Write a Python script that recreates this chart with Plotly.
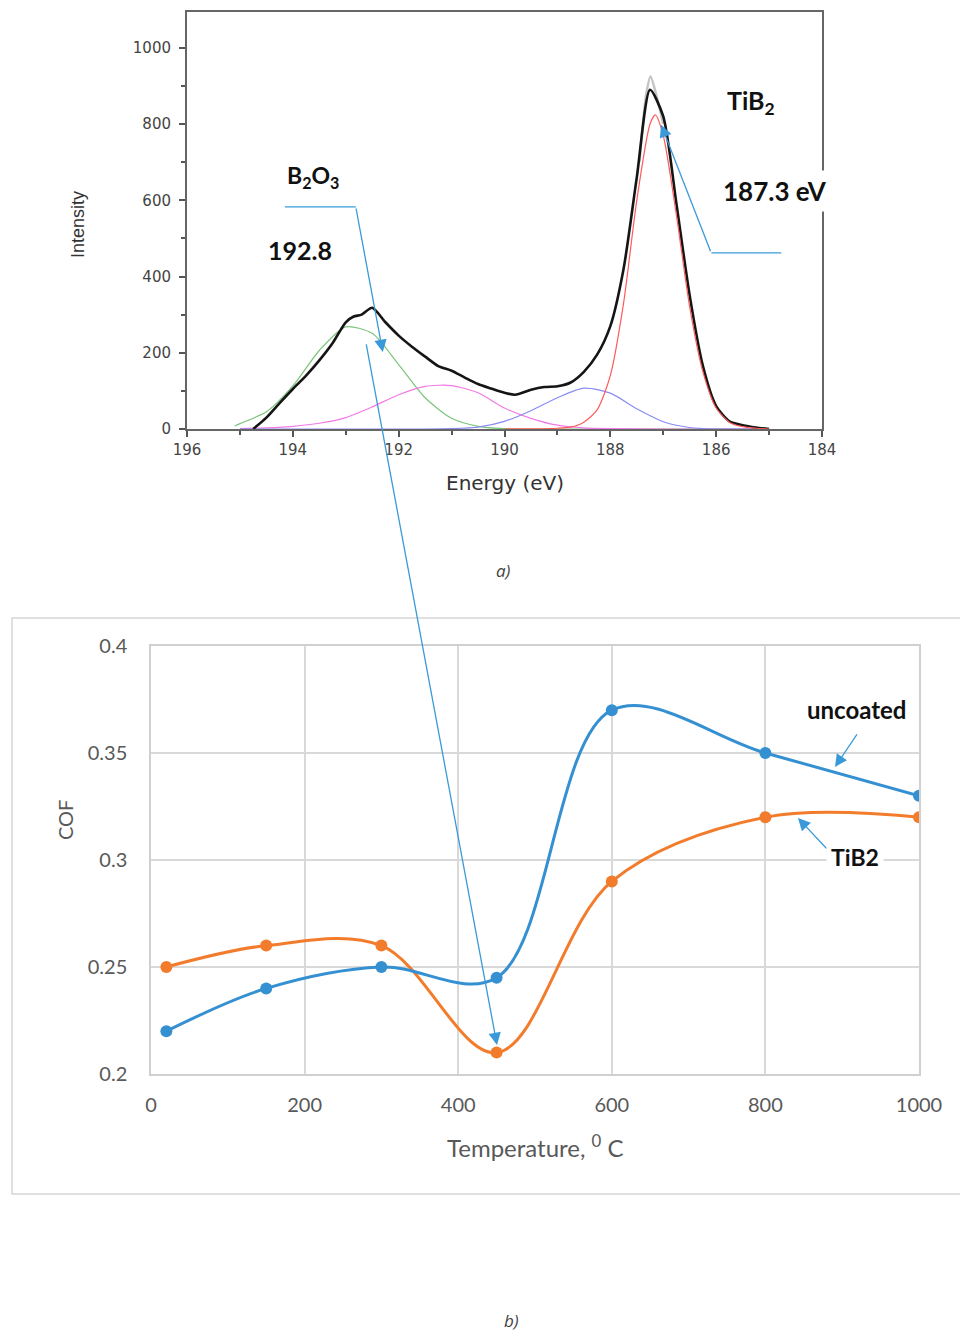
import plotly.graph_objects as go

# ---------------- (a) XPS B1s spectrum ----------------
energy_total = [194.75, 194.5, 194.25, 194.0, 193.75, 193.5, 193.25, 193.0, 192.85, 192.7, 192.5,
                192.25, 192.0, 191.75, 191.5, 191.25, 191.0, 190.75, 190.5, 190.25, 190.0, 189.8,
                189.5, 189.25, 189.0, 188.75, 188.5, 188.25, 188.0, 187.75, 187.5, 187.25, 187.0,
                186.75, 186.5, 186.25, 186.0, 185.75, 185.5, 185.25, 185.0]
intensity_total = [0, 30, 68, 105, 140, 180, 225, 280, 295, 300, 318,
                   280, 245, 216, 190, 165, 153, 135, 118, 106, 95, 90,
                   103, 110, 112, 122, 150, 195, 270, 420, 660, 890, 820,
                   590, 350, 165, 60, 20, 10, 4, 0]

energy_raw = [187.45, 187.32, 187.24, 187.12, 187.0]
intensity_raw = [700, 880, 925, 870, 800]

energy_b2o3 = [195.1, 195.0, 194.5, 194.0, 193.5, 193.0, 192.5, 192.0, 191.5, 191.0, 190.5,
               190.0, 189.0, 187.0, 185.0]
intensity_b2o3 = [8, 14, 45, 113, 206, 268, 251, 169, 82, 28, 7, 1, 0, 0, 0]

energy_mid = [195.0, 194.5, 194.0, 193.5, 193.0, 192.5, 192.0, 191.5, 191.0, 190.5, 190.0,
              189.5, 189.0, 188.5, 188.0, 187.0, 185.0]
intensity_mid = [1, 3, 7, 15, 30, 58, 90, 112, 114, 95, 55, 28, 10, 3, 1, 0, 0]

energy_low = [195.0, 193.0, 191.5, 191.0, 190.5, 190.0, 189.5, 189.0, 188.5, 188.0, 187.5,
              187.0, 186.5, 186.0, 185.0]
intensity_low = [0, 0, 0, 1, 5, 20, 48, 82, 107, 94, 53, 19, 4, 0, 0]

energy_tib2 = [190.0, 189.0, 188.75, 188.5, 188.25, 188.0, 187.75, 187.5, 187.25, 187.15,
               187.0, 186.75, 186.5, 186.25, 186.0, 185.75, 185.5, 185.25, 185.0]
intensity_tib2 = [0, 2, 5, 18, 50, 140, 330, 600, 800, 824,
                  770, 560, 320, 150, 55, 18, 6, 2, 0]

energy_ticks = [196, 194, 192, 190, 188, 186, 184]
intensity_ticks = [0, 200, 400, 600, 800, 1000]

# ---------------- (b) COF vs temperature ----------------
temperature = [20, 150, 300, 450, 600, 800, 1000]
cof_uncoated = [0.22, 0.24, 0.25, 0.245, 0.37, 0.35, 0.33]
cof_tib2 = [0.25, 0.26, 0.26, 0.21, 0.29, 0.32, 0.32]
temp_ticks = [0, 200, 400, 600, 800, 1000]
cof_ticks = [0.2, 0.25, 0.3, 0.35, 0.4]

BLUE = "#3590d2"
ORANGE = "#f27c2c"
ARROW = "#3a9ad9"

fig = go.Figure()

def spec(x, y, color, width, smooth=0.7):
    fig.add_trace(go.Scatter(x=x, y=y, mode="lines", xaxis="x", yaxis="y",
                             line=dict(color=color, width=width, shape="spline", smoothing=smooth),
                             hoverinfo="skip"))

spec(energy_raw, intensity_raw, "#c4c4c4", 2.5)
spec(energy_b2o3, intensity_b2o3, "#7cc47c", 1.2)
spec(energy_mid, intensity_mid, "#f27ae6", 1.2)
spec(energy_low, intensity_low, "#8a8af5", 1.2)
spec(energy_total, intensity_total, "#151515", 2.6)
spec(energy_tib2, intensity_tib2, "#ff5a5a", 1.2)

for yv, col in ((cof_tib2, ORANGE), (cof_uncoated, BLUE)):
    fig.add_trace(go.Scatter(x=temperature, y=yv, mode="lines+markers", xaxis="x2", yaxis="y2",
                             line=dict(color=col, width=3, shape="spline", smoothing=1.0),
                             marker=dict(color=col, size=12), hoverinfo="skip"))

top_font = dict(family="DejaVu Sans", size=15, color="#444444")
bot_font = dict(family="Lato, Open Sans", size=20, color="#595959")

fig.update_layout(
    width=960, height=1332, margin=dict(l=0, r=0, t=0, b=0, pad=0, autoexpand=False),
    paper_bgcolor="white", plot_bgcolor="white", showlegend=False,
    xaxis=dict(domain=[187/960, 822/960], anchor="y", range=[196, 184], automargin=False,
               tickvals=energy_ticks, ticks="outside", ticklen=6, tickwidth=1.5, tickcolor="#555",
               minor=dict(ticks="outside", ticklen=4, dtick=1, tick0=184, tickcolor="#555"),
               showline=True, mirror=True, linecolor="#666", linewidth=2,
               showgrid=False, zeroline=False, tickfont=top_font),
    yaxis=dict(domain=[1 - 429/1332, 1 - 12/1332], anchor="x", range=[0, 1094], automargin=False,
               tickvals=intensity_ticks, ticks="outside", ticklen=6, tickwidth=1.5, tickcolor="#555",
               minor=dict(ticks="outside", ticklen=4, dtick=100, tickcolor="#555"),
               showline=True, mirror=True, linecolor="#666", linewidth=2,
               showgrid=False, zeroline=False, tickfont=top_font, ticklabelstandoff=5),
    xaxis2=dict(domain=[151/960, 919/960], anchor="y2", range=[0, 1000], automargin=False,
                tickvals=temp_ticks, showgrid=True, gridcolor="#d9d9d9", gridwidth=1.5,
                showline=True, mirror=True, linecolor="#d0d0d0", linewidth=1.5,
                ticks="", zeroline=False, tickfont=bot_font, ticklabelstandoff=12),
    yaxis2=dict(domain=[1 - 1074/1332, 1 - 646/1332], anchor="x2", range=[0.2, 0.4], automargin=False,
                tickvals=cof_ticks, ticktext=["0.2", "0.25", "0.3", "0.35", "0.4"],
                showgrid=True, gridcolor="#d9d9d9", gridwidth=1.5,
                showline=True, mirror=True, linecolor="#d0d0d0", linewidth=1.5,
                ticks="", zeroline=False, tickfont=bot_font, ticklabelstandoff=18),
)

# outer frame of panel (b)
fig.add_shape(type="rect", xref="paper", yref="paper", x0=12/960, x1=1.02,
              y0=1 - 1194/1332, y1=1 - 618/1332, line=dict(color="#d6d6d6", width=1.5),
              fillcolor="rgba(0,0,0,0)", layer="below")

# leader lines (horizontal parts) in panel (a)
fig.add_shape(type="line", xref="x", yref="y", x0=194.15, x1=192.81, y0=583, y1=583,
              line=dict(color=ARROW, width=1.3))
fig.add_shape(type="line", xref="x", yref="y", x0=186.09, x1=184.77, y0=462, y1=462,
              line=dict(color=ARROW, width=1.3))

def arrow(x, y, ax, ay, xref, yref):
    fig.add_annotation(x=x, y=y, xref=xref, yref=yref, ax=ax, ay=ay, axref="pixel", ayref="pixel",
                       showarrow=True, arrowhead=2, arrowsize=1.9, arrowwidth=1.3,
                       arrowcolor=ARROW, text="")

arrow(192.30, 202, -27, -145, "x", "y")
arrow(187.04, 798, 50, 128, "x", "y")
arrow(450.5, 0.2136, -131, -702, "x2", "y2")
arrow(890.6, 0.3435, 23, -34, "x2", "y2")
arrow(842.4, 0.3196, 30, 32, "x2", "y2")

def label(text, px, py, size, bold=True, color="#111", bg=None, italic=False, angle=0, family="Lato"):
    t = f"<b>{text}</b>" if bold else text
    if italic:
        t = f"<i>{t}</i>"
    fig.add_annotation(x=px/960, y=1 - py/1332, xref="paper", yref="paper", text=t,
                       showarrow=False, textangle=angle,
                       font=dict(family=family, size=size, color=color),
                       bgcolor=bg, borderpad=4 if bg else 0, xanchor="center", yanchor="middle")

label("TiB<sub>2</sub>", 751, 102, 25)
label("187.3 eV", 775, 191, 26, bg="white")
label("B<sub>2</sub>O<sub>3</sub>", 313, 177, 23)
label("192.8", 300, 250, 25)
label("uncoated", 857, 709, 24, bg="white")
label("TiB2", 855, 857, 23, bg="white")

label("Intensity", 78, 225, 18, bold=False, color="#333", angle=-90,
      family="Liberation Sans Narrow, Arial Narrow, Liberation Sans")
label("Energy (eV)", 505, 483, 20, bold=False, color="#333", family="DejaVu Sans")
label("COF", 65, 820, 20, bold=False, color="#595959", angle=-90)
label("Temperature, <sup>0</sup> C", 535, 1146, 24, bold=False, color="#595959")
label("a)", 503, 570, 17, bold=False, color="#444", italic=True, family="Open Sans")
label("b)", 511, 1320, 17, bold=False, color="#444", italic=True, family="Open Sans")

fig.write_html("out.html", config={"displayModeBar": False},
               post_script="document.body.style.margin='0';document.body.style.padding='0';"
                           "document.documentElement.style.margin='0';")
